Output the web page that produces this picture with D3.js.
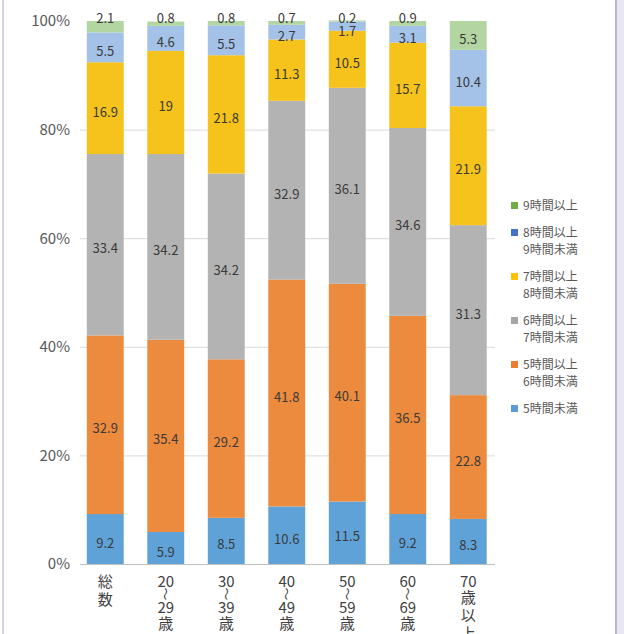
<!DOCTYPE html>
<html lang="ja">
<head>
<meta charset="UTF-8">
<title>睡眠時間 年齢階級別</title>
<script src="https://d3js.org/d3.v7.min.js"></script>
<style>
  * { margin: 0; padding: 0; box-sizing: border-box; }
  html, body { width: 624px; height: 634px; background: #fff; overflow: hidden; }
  svg { display: block; font-family: "Noto Sans CJK JP", "Noto Sans", sans-serif; }
  .grid line { stroke: #d9d9d9; stroke-width: 1; }
  .ytick text { fill: #595959; font-size: 15px; }
  .xlab text { fill: #404040; font-size: 15px; }
  .val { fill: #3a3a3a; font-size: 13px; }
  .legend text { fill: #595959; font-size: 12px; }
</style>
</head>
<body>
<svg id="chart" width="624" height="634"></svg>
<script>
// categories (each label split into vertical lines)
const categories = ["総数", "20～29歳", "30～39歳", "40～49歳", "50～59歳", "60～69歳", "70歳以上"];
const categoryLines = [
  ["総", "数"],
  ["20", "~", "29", "歳"],
  ["30", "~", "39", "歳"],
  ["40", "~", "49", "歳"],
  ["50", "~", "59", "歳"],
  ["60", "~", "69", "歳"],
  ["70", "歳", "以", "上"]
];

// series, bottom to top
const seriesNames = ["5時間未満", "5時間以上6時間未満", "6時間以上7時間未満", "7時間以上8時間未満", "8時間以上9時間未満", "9時間以上"];
const legendLines = [["5時間未満"], ["5時間以上", "6時間未満"], ["6時間以上", "7時間未満"], ["7時間以上", "8時間未満"], ["8時間以上", "9時間未満"], ["9時間以上"]];
const under5   = [9.2, 5.9, 8.5, 10.6, 11.5, 9.2, 8.3];
const h5to6    = [32.9, 35.4, 29.2, 41.8, 40.1, 36.5, 22.8];
const h6to7    = [33.4, 34.2, 34.2, 32.9, 36.1, 34.6, 31.3];
const h7to8    = [16.9, 19, 21.8, 11.3, 10.5, 15.7, 21.9];
const h8to9    = [5.5, 4.6, 5.5, 2.7, 1.7, 3.1, 10.4];
const over9    = [2.1, 0.8, 0.8, 0.7, 0.2, 0.9, 5.3];
const seriesValues = [under5, h5to6, h6to7, h7to8, h8to9, over9];

const yTicks = [0, 20, 40, 60, 80, 100];

const barColors    = ["#5fa2d8", "#ec8b3d", "#b3b3b3", "#f6c21c", "#a4c1e8", "#b3d5a1"];
const legendColors = ["#5b9bd5", "#ed7d31", "#a5a5a5", "#ffc000", "#4472c4", "#70ad47"];

const svg = d3.select("#chart");

// frame at the edges
svg.append("rect").attr("x", 617).attr("y", 0).attr("width", 7).attr("height", 634).attr("fill", "#ebe6f3");
svg.append("line").attr("x1", 616).attr("x2", 616).attr("y1", 0).attr("y2", 634)
  .attr("stroke", "#b9b6d3").attr("stroke-width", 2);
svg.append("line").attr("x1", 3).attr("x2", 3).attr("y1", 0).attr("y2", 634)
  .attr("stroke", "#c4c2dc").attr("stroke-width", 1.5);

const x = d3.scaleBand()
  .domain(categories)
  .range([75, 498.5])
  .paddingInner(0.39)
  .paddingOuter(0.195);

const y = d3.scaleLinear().domain([0, 100]).range([564, 21]);

// gridlines
svg.append("g").attr("class", "grid")
  .selectAll("line")
  .data(yTicks.filter(t => t > 0 && t < 100))
  .join("line")
  .attr("x1", 80).attr("x2", 495)
  .attr("y1", d => y(d) + 0.5).attr("y2", d => y(d) + 0.5);

// y tick labels
svg.append("g").attr("class", "ytick")
  .selectAll("text")
  .data(yTicks)
  .join("text")
  .attr("x", 70)
  .attr("y", d => y(d))
  .attr("dy", "0.36em")
  .attr("text-anchor", "end")
  .text(d => d + "%");

// stacked data
const rows = categories.map((c, i) => {
  const r = { cat: c };
  seriesNames.forEach((s, k) => r[s] = seriesValues[k][i]);
  return r;
});
const stacked = d3.stack().keys(seriesNames)(rows);

const layers = svg.append("g").selectAll("g")
  .data(stacked)
  .join("g")
  .attr("fill", (d, k) => barColors[k]);

layers.selectAll("rect")
  .data(d => d)
  .join("rect")
  .attr("x", d => x(d.data.cat))
  .attr("width", x.bandwidth())
  .attr("y", d => y(d[1]))
  .attr("height", d => y(d[0]) - y(d[1]));

// baseline
svg.append("line")
  .attr("x1", 80).attr("x2", 495)
  .attr("y1", y(0) + 0.5).attr("y2", y(0) + 0.5)
  .attr("stroke", "#bfbfbf");

// value labels, placed top-down so small segments don't collide
const labelG = svg.append("g");
categories.forEach((c, i) => {
  let prev = -Infinity;
  for (let k = seriesNames.length - 1; k >= 0; k--) {
    const seg = stacked[k][i];
    let cy = (y(seg[0]) + y(seg[1])) / 2 + 4;
    if (k === seriesNames.length - 1 && y(seg[0]) - y(seg[1]) < 14) cy = y(100) - 3;
    cy = Math.max(cy, prev + 13);
    prev = cy;
    labelG.append("text")
      .attr("class", "val")
      .attr("x", x(c) + x.bandwidth() / 2)
      .attr("y", cy)
      .attr("dy", "0.35em")
      .attr("text-anchor", "middle")
      .text(seriesValues[k][i]);
  }
});

// x labels, stacked vertically
const xl = svg.append("g").attr("class", "xlab");
categoryLines.forEach((lines, i) => {
  const cx = x(categories[i]) + x.bandwidth() / 2;
  let cy = 582;
  lines.forEach(t => {
    if (t === "~") {
      const ty = cy - 4;
      xl.append("text")
        .attr("transform", `translate(${cx},${ty}) rotate(90)`)
        .attr("text-anchor", "middle")
        .attr("dy", "0.35em")
        .style("font-size", "13px")
        .text("〜");
      cy += 10;
    } else {
      xl.append("text")
        .attr("x", cx).attr("y", cy)
        .attr("dy", "0.36em")
        .attr("text-anchor", "middle")
        .text(t);
      cy += t.length > 1 && /\d/.test(t) ? 16 : 18;
    }
  });
});

// legend (top entry = last series)
const lg = svg.append("g").attr("class", "legend");
let ly = 206;
for (let k = seriesNames.length - 1; k >= 0; k--) {
  lg.append("rect")
    .attr("x", 511).attr("y", ly - 4)
    .attr("width", 7).attr("height", 7)
    .attr("fill", legendColors[k]);
  legendLines[k].forEach((t, j) => {
    lg.append("text")
      .attr("x", 523).attr("y", ly + j * 17)
      .attr("dy", "0.35em")
      .text(t);
  });
  ly += (legendLines[k].length - 1) * 17 + 27;
}
</script>
</body>
</html>
